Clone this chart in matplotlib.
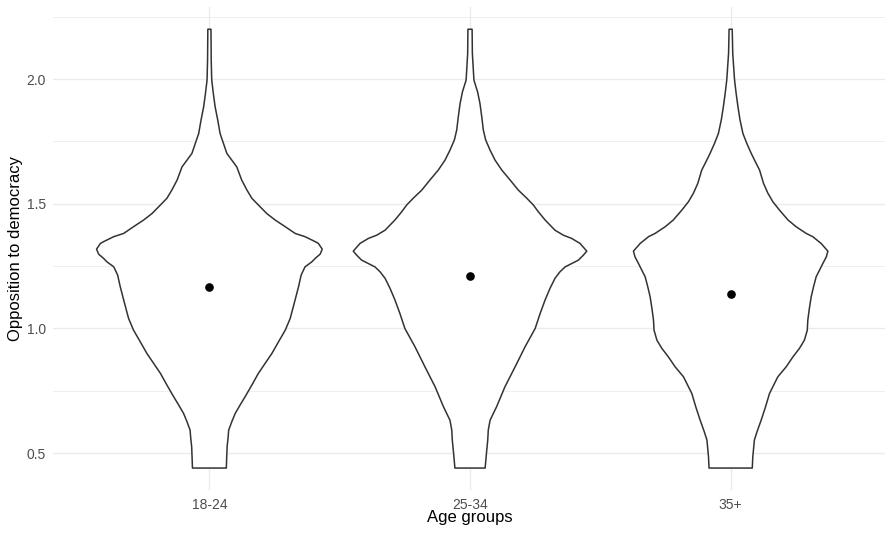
#!/usr/bin/env python
# -*- coding: utf-8 -*-

import numpy as np
import matplotlib
matplotlib.use('Agg')
import matplotlib.pyplot as plt

# Categories and summary points (means)
age_groups = ['18-24', '25-34', '35+']
group_means = [1.167, 1.210, 1.138]

# Violin outlines: y level and half width (x units), top to bottom
y_18_24 = [2.200, 2.076, 1.996, 1.943, 1.889, 1.836, 1.782, 1.742, 1.702, 1.675, 1.648,
           1.595, 1.555, 1.522, 1.495, 1.461, 1.435, 1.408, 1.381, 1.368, 1.348, 1.341,
           1.318, 1.298, 1.281, 1.267, 1.247, 1.234, 1.214, 1.167, 1.127, 1.087, 1.040,
           0.993, 0.946, 0.900, 0.860, 0.820, 0.773, 0.726, 0.693, 0.659, 0.626, 0.592,
           0.565, 0.525, 0.472, 0.440]
hw_18_24 = [0.006, 0.007, 0.009, 0.015, 0.022, 0.032, 0.041, 0.054, 0.067, 0.086, 0.105,
            0.124, 0.144, 0.163, 0.188, 0.220, 0.252, 0.291, 0.329, 0.367, 0.406, 0.418,
            0.433, 0.425, 0.406, 0.393, 0.367, 0.361, 0.352, 0.342, 0.332, 0.322, 0.310,
            0.291, 0.265, 0.240, 0.214, 0.188, 0.163, 0.137, 0.118, 0.099, 0.086, 0.074,
            0.072, 0.068, 0.066, 0.065]

y_25_34 = [2.200, 2.103, 1.996, 1.949, 1.903, 1.849, 1.796, 1.756, 1.715, 1.675, 1.635,
           1.595, 1.555, 1.522, 1.495, 1.468, 1.435, 1.394, 1.374, 1.361, 1.341, 1.310,
           1.294, 1.274, 1.247, 1.227, 1.201, 1.161, 1.114, 1.060, 1.000, 0.926, 0.846,
           0.766, 0.686, 0.632, 0.592, 0.552, 0.499, 0.440]
hw_25_34 = [0.008, 0.009, 0.015, 0.029, 0.038, 0.045, 0.051, 0.060, 0.077, 0.096, 0.122,
            0.154, 0.185, 0.218, 0.243, 0.262, 0.288, 0.326, 0.358, 0.390, 0.422, 0.448,
            0.435, 0.416, 0.365, 0.345, 0.326, 0.307, 0.288, 0.269, 0.250, 0.211, 0.173,
            0.134, 0.102, 0.077, 0.070, 0.068, 0.063, 0.058]

y_35_plus = [2.200, 2.103, 1.996, 1.943, 1.889, 1.836, 1.782, 1.742, 1.702, 1.668, 1.635,
             1.582, 1.542, 1.508, 1.475, 1.435, 1.408, 1.381, 1.368, 1.341, 1.310, 1.287,
             1.261, 1.234, 1.207, 1.167, 1.127, 1.080, 1.033, 0.993, 0.953, 0.920, 0.886,
             0.846, 0.806, 0.739, 0.686, 0.632, 0.585, 0.552, 0.485, 0.440]
hw_35_plus = [0.006, 0.008, 0.015, 0.021, 0.028, 0.036, 0.047, 0.062, 0.079, 0.095, 0.111,
              0.126, 0.143, 0.162, 0.187, 0.220, 0.251, 0.290, 0.315, 0.347, 0.373, 0.367,
              0.354, 0.341, 0.328, 0.318, 0.309, 0.302, 0.296, 0.294, 0.283, 0.264, 0.239,
              0.213, 0.181, 0.149, 0.134, 0.117, 0.101, 0.091, 0.085, 0.083]

major_yticks = [0.5, 1.0, 1.5, 2.0]
minor_yticks = [0.75, 1.25, 1.75, 2.25]

plt.rcParams['font.family'] = ['Liberation Sans', 'DejaVu Sans']


def main():
    fig = plt.figure(figsize=(8.85, 5.33), dpi=100)
    ax = fig.add_axes([0.0599, 0.0807, 0.9424, 0.9056])

    # theme_minimal style grid
    for y in major_yticks:
        ax.axhline(y, color='#EBEBEB', lw=1.0, zorder=0)
    for y in minor_yticks:
        ax.axhline(y, color='#EBEBEB', lw=0.55, zorder=0)
    for i in range(len(age_groups)):
        ax.axvline(i + 1, color='#EBEBEB', lw=1.0, zorder=0)

    outlines = [(y_18_24, hw_18_24), (y_25_34, hw_25_34), (y_35_plus, hw_35_plus)]
    for i, (ys, hws) in enumerate(outlines):
        c = i + 1
        ys = np.array(ys)
        hws = np.array(hws)
        xs = np.concatenate([c + hws, (c - hws)[::-1]])
        yy = np.concatenate([ys, ys[::-1]])
        ax.fill(xs, yy, facecolor='white', edgecolor='#333333', lw=1.1,
                joinstyle='round', zorder=2)

    ax.plot(np.arange(1, len(age_groups) + 1), group_means, 'o', color='black',
            markersize=5.2, zorder=3)

    ax.set_xlim(0.4, 3.6)
    ax.set_ylim(0.352, 2.288)
    ax.set_xticks(np.arange(1, len(age_groups) + 1))
    ax.set_xticklabels(age_groups)
    ax.set_yticks(major_yticks)
    ax.set_yticklabels(['0.5', '1.0', '1.5', '2.0'])
    ax.tick_params(axis='both', length=0, labelsize=10, labelcolor='#4D4D4D')
    ax.tick_params(axis='x', pad=5.5)
    ax.tick_params(axis='y', pad=5)
    for s in ax.spines.values():
        s.set_visible(False)
    ax.patch.set_alpha(0)

    # axis titles
    fig.text(470.0 / 885, (533 - 522.3) / 533, 'Age groups', ha='center',
             va='baseline', fontsize=12, color='black')
    fig.text(15.5 / 885, 1 - 248.6 / 533, 'Opposition to democracy', ha='center',
             va='center', rotation=90, fontsize=12, color='black')

    fig.savefig('out.png', dpi=100)
    plt.close(fig)


if __name__ == '__main__':
    main()
